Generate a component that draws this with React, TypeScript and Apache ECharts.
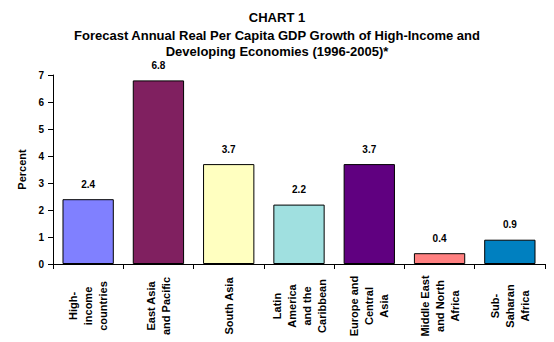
import React, { useEffect, useRef } from "react";
import * as echarts from "echarts";

const categories = [
  "High-\nincome\ncountries",
  "East Asia\nand Pacific",
  "South Asia",
  "Latin\nAmerica\nand the\nCaribbean",
  "Europe and\nCentral\nAsia",
  "Middle East\nand North\nAfrica",
  "Sub-\nSaharan\nAfrica",
];
const values = [2.4, 6.8, 3.7, 2.2, 3.7, 0.4, 0.9];
const colors = ["#8080FF", "#802060", "#FFFFC0", "#A0E0E0", "#600080", "#FF8080", "#0080C0"];
const titleLines = [
  "CHART 1",
  "Forecast Annual Real Per Capita GDP Growth of High-Income and",
  "Developing Economies (1996-2005)*",
];

const FONT = "'Liberation Sans', Arial, sans-serif";

export default function App() {
  const ref = useRef<HTMLDivElement>(null);
  useEffect(() => {
    if (!ref.current) return;
    const chart = echarts.init(ref.current, undefined, { renderer: "svg" });
    const titleStyle = { fontFamily: FONT, fontSize: 13, fontWeight: "bold", fill: "#000", align: "center", verticalAlign: "middle" };
    chart.setOption({
      animation: false,
      backgroundColor: "#ffffff",
      graphic: [
        { type: "text", x: 277, y: 17, style: { ...titleStyle, text: titleLines[0] } },
        { type: "text", x: 277, y: 35, style: { ...titleStyle, text: titleLines[1] } },
        { type: "text", x: 277, y: 51, style: { ...titleStyle, text: titleLines[2] } },
      ],
      grid: { left: 53, right: 9, top: 75, bottom: 78, containLabel: false },
      xAxis: {
        type: "category",
        data: categories,
        axisLine: { lineStyle: { color: "#000", width: 1 } },
        axisTick: { show: true, length: 5, inside: false, lineStyle: { color: "#000" } },
        axisLabel: {
          rotate: 90,
          interval: 0,
          align: "center",
          verticalAlign: "middle",
          margin: 42,
          fontFamily: FONT,
          fontSize: 11,
          fontWeight: "bold",
          color: "#000",
          lineHeight: 15,
        },
      },
      yAxis: {
        type: "value",
        min: 0,
        max: 7,
        interval: 1,
        name: "Percent",
        nameLocation: "middle",
        nameGap: 24,
        nameTextStyle: { fontFamily: FONT, fontSize: 11, fontWeight: "bold", color: "#000" },
        axisLine: { show: true, lineStyle: { color: "#000", width: 1 } },
        axisTick: { show: true, length: 5, lineStyle: { color: "#000" } },
        axisLabel: { fontFamily: FONT, fontSize: 10, fontWeight: "bold", color: "#000", margin: 9 },
        splitLine: { show: false },
      },
      series: [
        {
          type: "bar",
          data: values.map((v, i) => ({ value: v, itemStyle: { color: colors[i] } })),
          barCategoryGap: "27%",
          itemStyle: { borderColor: "#000", borderWidth: 1 },
          label: {
            show: true,
            position: "top",
            distance: 10,
            fontFamily: FONT,
            fontSize: 10,
            fontWeight: "bold",
            color: "#000",
            formatter: (p: any) => p.value.toFixed(1),
          },
        },
      ],
    });
    return () => chart.dispose();
  }, []);
  return <div ref={ref} style={{ position: "fixed", left: 0, top: 0, width: 554, height: 342 }} />;
}
